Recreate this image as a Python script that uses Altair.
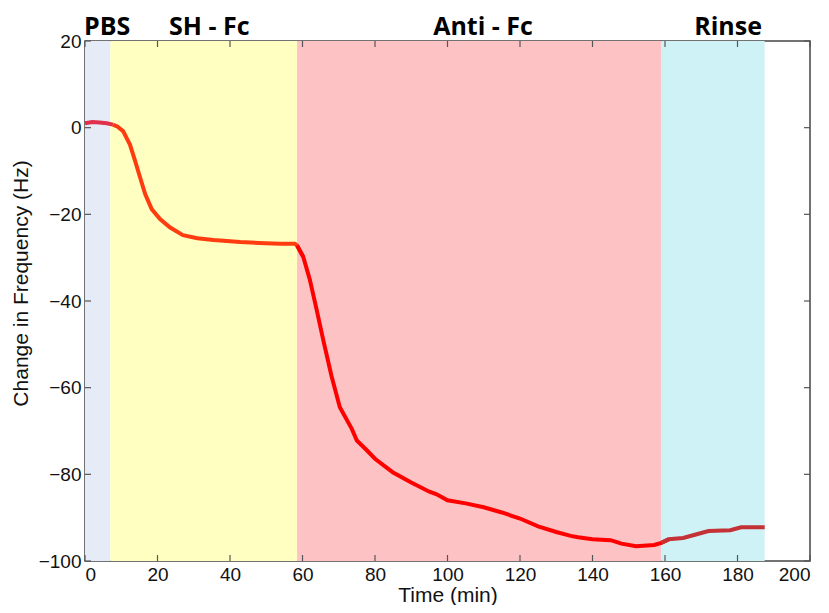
import altair as alt
import pandas as pd

# ---- data ----
time_min = [0, 2, 4, 6, 7.7, 9, 10.5, 12.4, 13.8, 15.2, 16.6, 18.4, 20.7, 23.4, 27, 31,
            35.4, 42.8, 48, 53.8, 57.9, 58.5, 60.2, 62, 63.9, 65.7, 68, 70.3, 73.6, 75,
            77.8, 80, 83.3, 85, 90, 95, 97, 100, 105, 110, 115, 120, 125, 130, 134, 136,
            140, 145, 148, 152, 157, 159, 161, 165, 168, 172, 178, 181, 187.5]
freq_hz = [1.0, 1.3, 1.2, 1.0, 0.7, 0.2, -0.8, -3.9, -7.6, -11.5, -15.3, -18.8, -21.1,
           -23.0, -24.8, -25.5, -25.9, -26.4, -26.6, -26.8, -26.8, -27.2, -29.8, -35.0,
           -42.0, -48.9, -57.3, -64.5, -69.5, -72.2, -74.5, -76.4, -78.5, -79.6, -81.9,
           -84.0, -84.6, -86.0, -86.7, -87.6, -88.8, -90.2, -92.0, -93.3, -94.2, -94.5,
           -95.0, -95.2, -96.0, -96.6, -96.3, -95.8, -95.0, -94.7, -94.0, -93.1, -92.9,
           -92.2, -92.2]

phase_names = ["PBS", "SH - Fc", "Anti - Fc", "Rinse"]
phase_start = [0, 7, 58.5, 159]
phase_end = [7, 58.5, 159, 187.5]
phase_colors = ["#e5ebf7", "#ffffc2", "#fdc3c4", "#cff2f6"]
line_colors = ["#e0304c", "#ff3c10", "#ff0000", "#c43236"]
label_x = [6.1, 34.3, 109.8, 177.4]

x_ticks = list(range(0, 201, 20))
y_ticks = list(range(-100, 21, 20))

W, H = 725, 520

# build per-phase line segments (each joined to the next point)
rows = []
for name, s, e in zip(phase_names, phase_start, phase_end):
    idx = [i for i, t in enumerate(time_min) if s <= t <= e]
    if idx and idx[-1] + 1 < len(time_min):
        idx.append(idx[-1] + 1)
    for i in idx:
        rows.append({"t": time_min[i], "f": freq_hz[i], "phase": name})
curve = pd.DataFrame(rows)

phases = pd.DataFrame({"name": phase_names, "start": phase_start, "end": phase_end,
                       "color": phase_colors, "lx": label_x})
xt = pd.DataFrame({"v": x_ticks})
yt = pd.DataFrame({"v": y_ticks})

FONT = "Liberation Sans"
xscale = alt.Scale(domain=[0, 200], nice=False, zero=False)
yscale = alt.Scale(domain=[-100, 20], nice=False, zero=False)

bands = alt.Chart(phases).mark_rect().encode(
    x=alt.X("start:Q", scale=xscale,
            axis=alt.Axis(values=x_ticks, title="Time (min)", ticks=False, grid=False,
                          domain=False, labelFontSize=19, labelFont=FONT, labelColor="#111",
                          labelPadding=4, titleFont=FONT, titleFontSize=21,
                          titleFontWeight="normal", titleColor="#111", titlePadding=0)),
    x2="end:Q",
    y=alt.value(0),
    y2=alt.value(H),
    color=alt.Color("color:N", scale=None),
)

yaxis_layer = alt.Chart(yt).mark_rule(opacity=0).encode(
    y=alt.Y("v:Q", scale=yscale,
            axis=alt.Axis(values=y_ticks, title="Change in Frequency (Hz)", ticks=False,
                          grid=False, domain=False, labelFontSize=19, labelFont=FONT,
                          labelColor="#111", labelPadding=4, titleFont=FONT,
                          titleFontSize=21, titleFontWeight="normal", titleColor="#111",
                          titlePadding=7, titleY=242)),
)

line = alt.Chart(curve).mark_line(strokeWidth=4, strokeCap="butt").encode(
    x=alt.X("t:Q", scale=xscale),
    y=alt.Y("f:Q", scale=yscale),
    color=alt.Color("phase:N", scale=alt.Scale(domain=phase_names, range=line_colors),
                    legend=None),
    order="t:Q",
)

tick_color = "#555"
xt_bottom = alt.Chart(xt).mark_rule(color=tick_color, strokeWidth=1.2).encode(
    x=alt.X("v:Q", scale=xscale), y=alt.value(H), y2=alt.value(H - 6))
xt_top = alt.Chart(xt).mark_rule(color=tick_color, strokeWidth=1.2).encode(
    x=alt.X("v:Q", scale=xscale), y=alt.value(0), y2=alt.value(6))
yt_left = alt.Chart(yt).mark_rule(color=tick_color, strokeWidth=1.2).encode(
    y=alt.Y("v:Q", scale=yscale), x=alt.value(0), x2=alt.value(6))
yt_right = alt.Chart(yt).mark_rule(color=tick_color, strokeWidth=1.2).encode(
    y=alt.Y("v:Q", scale=yscale), x=alt.value(W), x2=alt.value(W - 6))

labels = alt.Chart(phases).mark_text(font="Open Sans", fontWeight="bold", fontSize=25,
                                     color="#000", baseline="alphabetic", align="center").encode(
    x=alt.X("lx:Q", scale=xscale),
    y=alt.value(-6),
    text="name:N",
)

chart = alt.layer(bands, yaxis_layer, line, xt_bottom, xt_top, yt_left, yt_right, labels).properties(
    width=W, height=H,
    padding={"left": 77, "top": 33, "right": 10, "bottom": 44},
    autosize=alt.AutoSizeParams(type="none"),
).configure_view(stroke="#444", strokeWidth=1.5)

chart.save("out.html", embed_options={"renderer": "svg", "actions": False})
